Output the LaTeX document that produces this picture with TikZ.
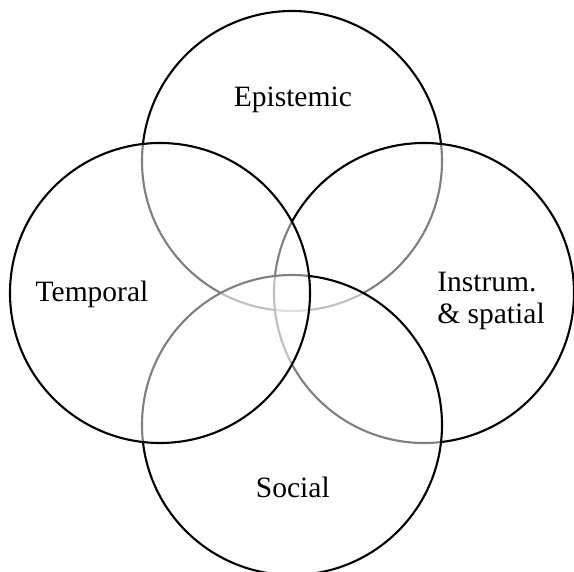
\documentclass[tikz,border=0pt]{standalone}
\usepackage{fontspec}
\setmainfont{Liberation Serif}
\usepackage{tikz}
\usetikzlibrary{positioning}

\begin{document}
\begin{tikzpicture}[font=\fontsize{21}{22.5}\selectfont,
  ring/.style={draw=black,line width=1.5pt,fill=white,fill opacity=0.5},
  lab/.style={inner sep=0pt,text opacity=1}]
  \def\R{3.75}
  \def\D{3.3}
  \useasboundingbox (-7.3,-6.975) rectangle (7.05,7.325);
  % drawing order sets which arcs fade
  \filldraw[ring] (0,\D) circle (\R);
  \filldraw[ring] (\D,0) circle (\R);
  \filldraw[ring] (0,-\D) circle (\R);
  \filldraw[ring] (-\D,0) circle (\R);
  \node[lab,anchor=base] (epi) at (0.02,4.65) {Epistemic};
  \node[lab,anchor=base] (temp) at (-5.0,-0.225) {Temporal};
  \node[lab,anchor=west,align=left] (instr) at (3.625,-0.2) {Instrum.\\ \& spatial};
  \node[lab,anchor=base] (soc) at (0.02,-5.12) {Social};
\end{tikzpicture}
\end{document}
